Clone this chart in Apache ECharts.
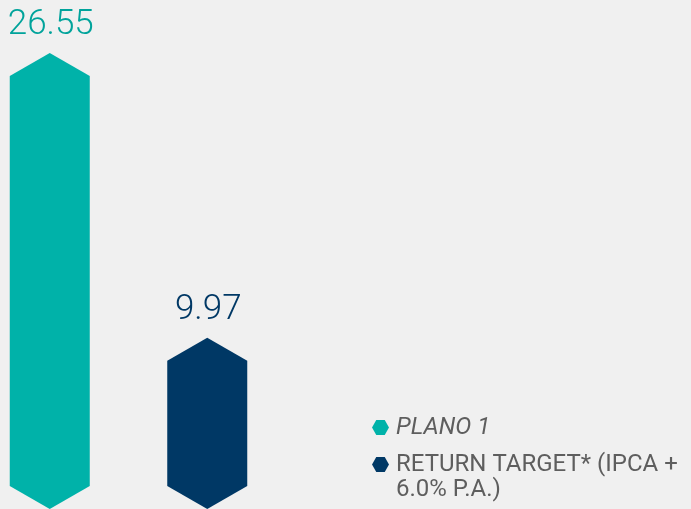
<!DOCTYPE html>
<html>
<head>
<meta charset="utf-8">
<script src="https://cdn.jsdelivr.net/npm/echarts@6/dist/echarts.min.js"></script>
<style>
html,body{margin:0;padding:0;background:#f0f0f0;}
#chart{width:691px;height:509px;}
</style>
</head>
<body>
<div id="chart"></div>
<script>
const categories = ['PLANO 1', 'RETURN TARGET* (IPCA + 6.0% P.A.)'];
const plano1Values = [26.55];
const targetValues = [9.97];
const seriesColors = ['#00b2a9', '#003865'];
const labelColors = ['#00a39b', '#003865'];

const chart = echarts.init(document.getElementById('chart'));

function makeRender(color, labelColor) {
  return function (params, api) {
    const xi = api.value(0), v = api.value(1);
    const top = api.coord([xi, v]);
    const base = api.coord([xi, 0]);
    const hw = 40;
    const cap = hw * Math.tan(Math.PI / 6);
    const cx = top[0];
    const pts = [
      [cx, top[1]], [cx + hw, top[1] + cap], [cx + hw, base[1] - cap],
      [cx, base[1]], [cx - hw, base[1] - cap], [cx - hw, top[1] + cap]
    ];
    return {
      type: 'group',
      children: [
        { type: 'polygon', shape: { points: pts }, style: { fill: color } },
        { type: 'text', style: {
            text: api.value(1).toFixed(2), x: cx + 1, y: top[1] - 28,
            align: 'center', verticalAlign: 'middle',
            fill: labelColor, font: '300 35px Roboto'
        } }
      ]
    };
  };
}

const option = {
  backgroundColor: '#f0f0f0',
  animation: false,
  grid: { left: -29, width: 315, top: 53, bottom: 0, outerBoundsMode: 'none', containLabel: false },
  xAxis: { type: 'category', data: categories, show: false },
  yAxis: { type: 'value', min: 0, max: 'dataMax', show: false },
  legend: {
    orient: 'vertical',
    left: 372,
    top: 415,
    height: 300,
    padding: 0,
    itemWidth: 17,
    itemHeight: 15,
    itemGap: -13,
    icon: 'path://M0,7.5 L4.25,0 L12.75,0 L17,7.5 L12.75,15 L4.25,15 Z',
    textStyle: { fontFamily: 'Roboto', fontSize: 24, color: '#5e5e5e', lineHeight: 25, padding: [0,0,0,2] },
    formatter: function (name) {
      if (name === categories[1]) return '\nRETURN TARGET* (IPCA +\n6.0% P.A.)';
      return name;
    },
    data: [
      { name: categories[0], textStyle: { fontStyle: 'italic' } },
      { name: categories[1] }
    ]
  },
  series: [
    {
      name: categories[0], type: 'custom',
      itemStyle: { color: seriesColors[0] },
      renderItem: makeRender(seriesColors[0], labelColors[0]),
      data: plano1Values.map(v => [0, v])
    },
    {
      name: categories[1], type: 'custom',
      itemStyle: { color: seriesColors[1] },
      renderItem: makeRender(seriesColors[1], labelColors[1]),
      data: targetValues.map(v => [1, v])
    }
  ]
};
chart.setOption(option);
</script>
</body>
</html>
